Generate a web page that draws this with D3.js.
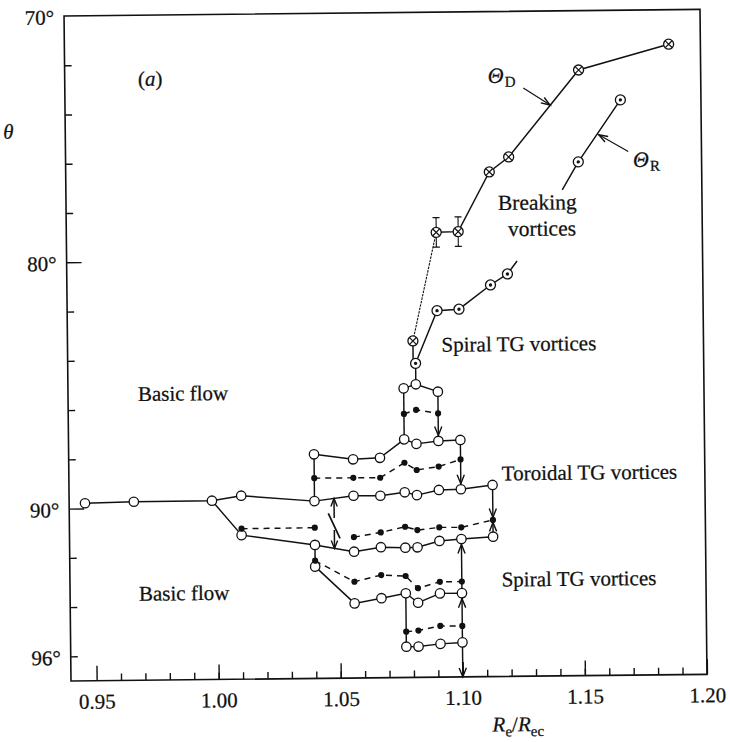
<!DOCTYPE html>
<html><head><meta charset="utf-8">
<script src="https://cdn.jsdelivr.net/npm/d3@7"></script>
<style>
body{margin:0;background:#fff}
svg{display:block}
text{font-family:"Liberation Serif","DejaVu Serif",serif;fill:#111;stroke:#111;stroke-width:0.25px}
</style>
</head><body>
<svg id="c" width="730" height="742"></svg>
<script>
// ---------- axis ticks / labels ----------
const xTickValues = [0.95, 1.00, 1.05, 1.10, 1.15, 1.20];
const xTickLabels = ["0.95", "1.00", "1.05", "1.10", "1.15", "1.20"];
const yTickValues = [70, 80, 90, 96];
const yTickLabels = ["70°", "80°", "90°", "96°"];
const yMajorTicks = [80, 90];

// ---------- data (Re/Rec, theta in degrees) ----------
const toroidalUpperEdge = [[0.946,89.79],[0.966,89.75],[0.998,89.74],[1.010,89.55],[1.040,89.80],[1.056,89.60],[1.067,89.61],[1.077,89.48],[1.082,89.60],[1.091,89.40],[1.100,89.38],[1.113,89.22]];
const toroidalLowerEdge = [[0.998,89.74],[1.010,91.15],[1.040,91.58],[1.056,91.87],[1.067,91.70],[1.077,91.73],[1.082,91.72],[1.091,91.47],[1.100,91.40],[1.113,91.32]];
const toroidalMidA = [[1.010,90.89],[1.040,90.88]];
const toroidalMidB = [[1.056,91.28],[1.067,91.10],[1.077,90.88],[1.082,91.02],[1.091,90.92],[1.100,90.93],[1.113,90.64]];
const upperBandTop = [[1.040,87.90],[1.056,88.12],[1.067,88.07],[1.077,87.33],[1.082,87.52],[1.091,87.41],[1.100,87.38]];
const upperBandMid = [[1.040,88.87],[1.056,88.87],[1.067,88.88],[1.077,88.28],[1.082,88.58],[1.091,88.45],[1.100,88.17]];
const topBlockTop = [[1.077,85.26],[1.082,85.10],[1.091,85.41]];
const topBlockMid = [[1.077,86.30],[1.082,86.14],[1.091,86.29]];
const spiralEdge = [[1.040,92.46],[1.056,93.97],[1.067,93.77],[1.077,93.58],[1.082,93.97],[1.091,93.60],[1.100,93.60]];
const spiralMid = [[1.040,92.22],[1.056,93.09],[1.067,92.83],[1.077,92.88],[1.082,93.38],[1.091,93.13],[1.100,93.13]];
const bottomBlockEdge = [[1.077,95.75],[1.082,95.75],[1.091,95.65],[1.100,95.60]];
const bottomBlockMid = [[1.077,95.14],[1.082,95.10],[1.091,94.92],[1.100,94.93]];
const connectors = [[1.040,87.90,89.80],[1.077,85.26,87.33],[1.082,84.25,85.10],[1.091,85.41,87.41],[1.100,87.38,89.38],[1.113,89.22,91.32],[1.040,91.58,92.46],[1.077,93.58,95.75],[1.100,91.40,97.00],[1.081,83.34,84.25]];
const arrows = [[1.091,86.29,87.41],[1.100,88.17,89.38],[1.113,89.22,90.64],[1.113,91.32,90.64],[1.100,93.13,91.40],[1.100,94.93,93.60],[1.100,95.60,97.00]];
const transitionArrows = [[1.048,90.49,89.70],[1.048,90.98,91.73]];
const transitionSlash = [[1.0456,90.30],[1.0503,91.32]];
const thetaD = [[1.081,83.34],[1.091,78.94],[1.100,78.92],[1.113,76.51],[1.121,75.91],[1.150,72.41],[1.187,71.40]];
const thetaDErr = [[1.091,78.94,0.6],[1.100,78.92,0.6]];
const thetaR = [[1.082,84.25],[1.091,82.12],[1.100,82.07],[1.113,81.10],[1.120,80.66]];
const thetaRTail = [[1.120,80.66],[1.124,80.14]];
const thetaRUpper = [[1.1495,76.14],[1.167,73.64]];
const thetaRUpperTail = [[1.1428,77.27],[1.1495,76.14]];
const thetaDArrow = [[1.1273,73.12],[1.1382,73.82]];
const thetaRArrow = [[1.1700,75.74],[1.158,75.05]];

// ---------- layout ----------
const pLeft = 71, pRight = 707, pTop = 16, pBottom = 681;
const x = d3.scaleLinear().domain([0.9395, 1.20]).range([pLeft, pRight]);
const y = d3.scaleLinear().domain([70, 97]).range([pTop, pBottom]);
const INK = "#111";
const LW = 1.45;
const svg = d3.select("#c");
const g = svg.append("g").attr("transform", `rotate(-0.6,${pLeft},${pBottom})`);
const line = d3.line().x(d => x(d[0])).y(d => y(d[1]));

function styleAxis(sel){
  sel.select(".domain").remove();
  sel.selectAll("line").attr("stroke", INK).attr("stroke-width", 1.4);
  sel.selectAll("text").attr("font-family", '"Liberation Serif", serif').attr("font-size", 21).attr("fill", INK);
  sel.attr("font-family", null).attr("font-size", null);
}
const xMinor = d3.range(96, 120).map(v => v / 100);
g.append("g").attr("transform", `translate(0,${pBottom})`)
  .call(d3.axisBottom(x).tickValues(xMinor).tickSize(-7).tickFormat("")).call(styleAxis);
g.append("g").attr("transform", `translate(0,${pBottom})`)
  .call(d3.axisBottom(x).tickValues(xTickValues).tickSize(-15).tickPadding(13).tickFormat((d, i) => xTickLabels[i])).call(styleAxis);
const yMinor = d3.range(72, 97, 2).filter(v => !yMajorTicks.includes(v));
g.append("g").attr("transform", `translate(${pLeft},0)`)
  .call(d3.axisLeft(y).tickValues(yMinor).tickSize(-7).tickFormat("")).call(styleAxis);
g.append("g").attr("transform", `translate(${pLeft},0)`)
  .call(d3.axisLeft(y).tickValues(yMajorTicks).tickSize(-15).tickFormat("")).call(styleAxis);
const yl = g.append("g").attr("transform", `translate(${pLeft},0)`)
  .call(d3.axisLeft(y).tickValues(yTickValues).tickSize(0).tickPadding(10).tickFormat((d, i) => yTickLabels[i])).call(styleAxis);
yl.selectAll("text").attr("dy", "0.38em");

g.append("rect").attr("x", pLeft).attr("y", pTop).attr("width", pRight - pLeft).attr("height", pBottom - pTop)
  .attr("fill", "none").attr("stroke", INK).attr("stroke-width", 1.6);

g.append("text").attr("x", 9).attr("y", 138).attr("font-size", 21).attr("font-style", "italic").text("θ");
const xt = g.append("text").attr("x", 492).attr("y", 736).attr("font-size", 21);
xt.append("tspan").attr("font-style", "italic").text("R");
xt.append("tspan").attr("font-size", 15).attr("dy", 5).text("e");
xt.append("tspan").attr("dy", -5).text("/");
xt.append("tspan").attr("font-style", "italic").text("R");
xt.append("tspan").attr("font-size", 15).attr("dy", 5).text("ec");

function solid(data, w = LW){
  g.append("path").attr("d", line(data)).attr("fill", "none").attr("stroke", INK).attr("stroke-width", w);
}
function dashed(data){
  g.append("path").attr("d", line(data)).attr("fill", "none").attr("stroke", INK).attr("stroke-width", LW).attr("stroke-dasharray", "6,5");
}
[toroidalUpperEdge, toroidalLowerEdge, upperBandTop, topBlockTop, spiralEdge, bottomBlockEdge].forEach(d => solid(d));
[toroidalMidA, toroidalMidB, upperBandMid, topBlockMid, spiralMid, bottomBlockMid].forEach(dashed);
connectors.forEach(c => solid([[c[0], c[1]], [c[0], c[2]]]));
solid(transitionSlash, 1.7);

function arrowhead(x1, y1, x2, y2, len = 9, hw = 3.6){
  const dx = x2 - x1, dy = y2 - y1, L = Math.hypot(dx, dy), ux = dx / L, uy = dy / L;
  const bx = x2 - ux * len, by = y2 - uy * len;
  g.append("path").attr("d", `M${bx - uy * hw},${by + ux * hw}L${x2},${y2}L${bx + uy * hw},${by - ux * hw}`)
    .attr("fill", "none").attr("stroke", INK).attr("stroke-width", 1.4);
}
arrows.forEach(a => {
  const y1 = y(a[1]), y2 = y(a[2]);
  const s = Math.sign(y2 - y1);
  const gap = a[2] === 97 ? 0 : (a[0] === 1.113 ? 2.5 : 5.5);
  arrowhead(x(a[0]), y1, x(a[0]), y2 - s * gap);
});
transitionArrows.forEach(a => {
  solid([[a[0], a[1]], [a[0], a[2]]], 1.5);
  arrowhead(x(a[0]), y(a[1]), x(a[0]), y(a[2]), 8, 3.2);
});

g.append("path").attr("d", line(thetaD.slice(0, 2))).attr("fill", "none").attr("stroke", INK).attr("stroke-width", 1.1).attr("stroke-dasharray", "2.5,1");
solid(thetaD.slice(1));
solid(thetaR.concat([thetaRTail[1]]));
solid(thetaRUpperTail.concat(thetaRUpper.slice(1)));
thetaDErr.forEach(e => {
  const cx = x(e[0]);
  solid([[e[0], e[1] - e[2]], [e[0], e[1] + e[2]]], 1.1);
  [e[1] - e[2], e[1] + e[2]].forEach(t => {
    g.append("line").attr("x1", cx - 3.5).attr("x2", cx + 3.5).attr("y1", y(t)).attr("y2", y(t)).attr("stroke", INK).attr("stroke-width", 1.2);
  });
});
[thetaDArrow, thetaRArrow].forEach(a => {
  solid(a, 1.2);
  arrowhead(x(a[0][0]), y(a[0][1]), x(a[1][0]), y(a[1][1]), 9, 3.2);
});

function openCircles(data){
  g.append("g").selectAll("circle").data(data).join("circle")
    .attr("cx", d => x(d[0])).attr("cy", d => y(d[1])).attr("r", 4.7)
    .attr("fill", "#fff").attr("stroke", INK).attr("stroke-width", 1.3);
}
function dots(data){
  g.append("g").selectAll("circle").data(data).join("circle")
    .attr("cx", d => x(d[0])).attr("cy", d => y(d[1])).attr("r", 3.1).attr("fill", INK);
}
[toroidalUpperEdge, toroidalLowerEdge.slice(1), upperBandTop, topBlockTop, spiralEdge, bottomBlockEdge].forEach(openCircles);
[toroidalMidA, toroidalMidB, upperBandMid, topBlockMid, spiralMid, bottomBlockMid].forEach(dots);

function crossed(data){
  const m = g.append("g").selectAll("g").data(data).join("g")
    .attr("transform", d => `translate(${x(d[0])},${y(d[1])})`);
  m.append("circle").attr("r", 5).attr("fill", "#fff").attr("stroke", INK).attr("stroke-width", 1.3);
  m.append("path").attr("d", "M-3.4,-3.4L3.4,3.4M-3.4,3.4L3.4,-3.4").attr("stroke", INK).attr("stroke-width", 1.2);
}
function dotted(data){
  const m = g.append("g").selectAll("g").data(data).join("g")
    .attr("transform", d => `translate(${x(d[0])},${y(d[1])})`);
  m.append("circle").attr("r", 5).attr("fill", "#fff").attr("stroke", INK).attr("stroke-width", 1.3);
  m.append("circle").attr("r", 1.7).attr("fill", INK);
}
crossed(thetaD);
dotted(thetaR);
dotted(thetaRUpper);

function label(t, xv, yv, size = 21){
  return g.append("text").attr("x", x(xv)).attr("y", y(yv)).attr("font-size", size).text(t);
}
label("Spiral TG vortices", 1.0927, 83.79);
label("Toroidal TG vortices", 1.1168, 89.04);
label("Spiral TG vortices", 1.1163, 93.35);
label("Basic flow", 0.9681, 85.66);
label("Basic flow", 0.9677, 93.77);
label("Breaking", 1.1164, 78.06, 21.5);
label("vortices", 1.1204, 79.12, 21.5);
const ta = g.append("text").attr("x", x(0.9695)).attr("y", y(72.87)).attr("font-size", 21);
ta.append("tspan").text("(");
ta.append("tspan").attr("font-style", "italic").text("a");
ta.append("tspan").text(")");
function thetaLabel(sub, xv, yv){
  const t = g.append("text").attr("x", x(xv)).attr("y", y(yv)).attr("font-size", 22);
  t.append("tspan").attr("font-style", "italic").text("Θ");
  t.append("tspan").attr("font-size", 15).attr("dy", 4).attr("dx", 1).text(sub);
}
thetaLabel("D", 1.1128, 72.9);
thetaLabel("R", 1.1719, 76.37);
</script>
</body></html>
